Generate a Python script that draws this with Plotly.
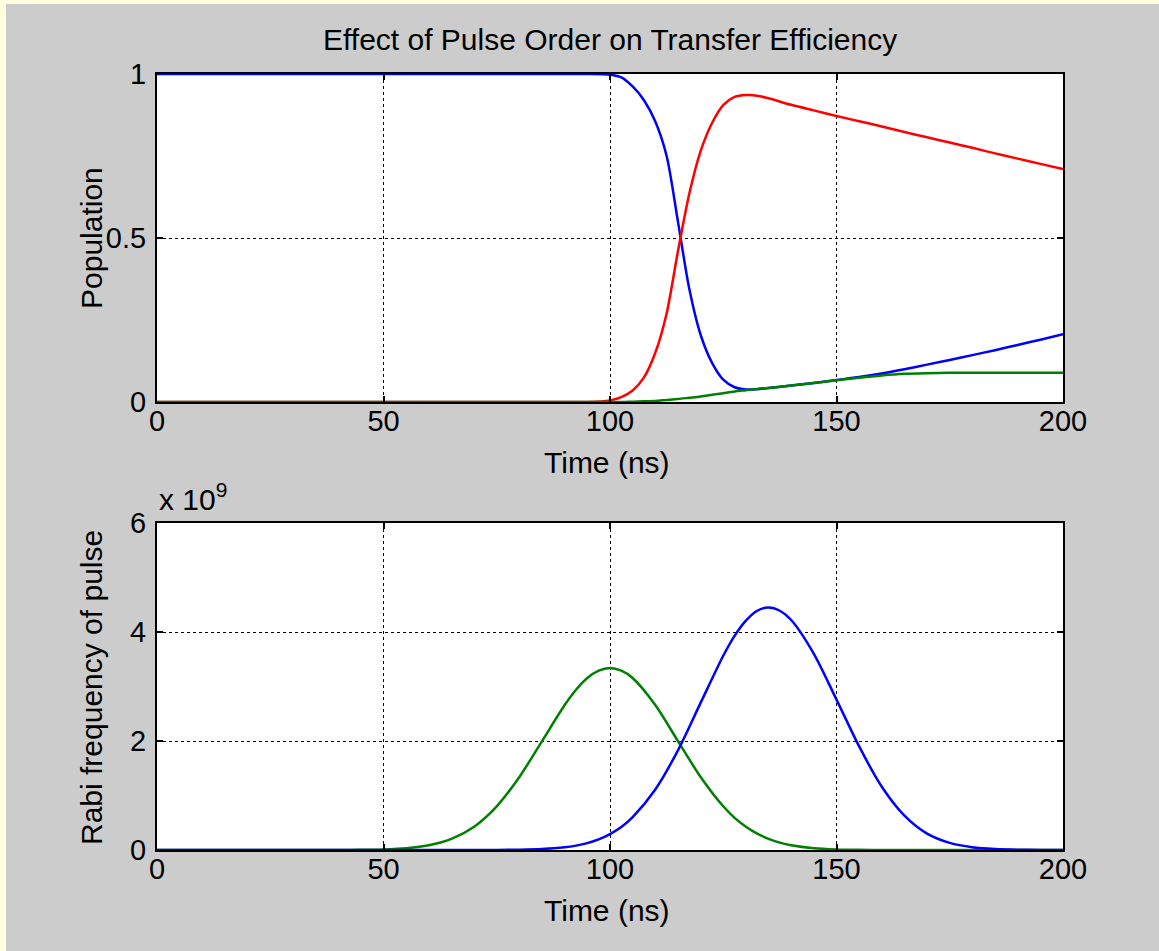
import plotly.graph_objects as go

W, H = 1159, 951

# ---------------- data ----------------
t_pop = [0, 10, 20, 30, 40, 50, 60, 70, 80, 90, 95,
         100, 102.5, 105, 107.5, 110, 112.5, 115, 117.5, 120, 122.5, 125, 127.5, 130, 132.5, 135,
         140, 145, 150, 155, 160, 165, 170, 175, 180, 185, 190, 195, 200]
pop_blue = [1, 1, 1, 1, 1, 1, 1, 1, 1, 1, 1,
            0.998, 0.99, 0.962, 0.92, 0.855, 0.75, 0.55, 0.345, 0.205, 0.12, 0.068, 0.045, 0.038, 0.039, 0.043,
            0.05, 0.058, 0.067, 0.076, 0.087, 0.1, 0.114, 0.128, 0.143, 0.158, 0.174, 0.19, 0.207]
pop_red = [0, 0, 0, 0, 0, 0, 0, 0, 0, 0, 0,
           0.005, 0.015, 0.035, 0.075, 0.15, 0.27, 0.46, 0.635, 0.765, 0.85, 0.905, 0.93, 0.936, 0.934, 0.926,
           0.906, 0.889, 0.872, 0.856, 0.84, 0.823, 0.807, 0.791, 0.775, 0.758, 0.742, 0.726, 0.71]
pop_green = [0, 0, 0, 0, 0, 0, 0, 0, 0, 0, 0,
             0, 0, 0.001, 0.002, 0.003, 0.006, 0.009, 0.013, 0.017, 0.022, 0.027, 0.032, 0.036, 0.04, 0.043,
             0.05, 0.058, 0.066, 0.074, 0.081, 0.086, 0.088, 0.089, 0.089, 0.089, 0.089, 0.089, 0.089]

t_rabi = [0, 5, 10, 15, 20, 25, 30, 35, 40, 45, 50, 55, 60, 65, 70, 75, 80, 85, 90, 92.5, 95, 97.5, 100,
          102.5, 105, 110, 115, 120, 125, 127.5, 130, 132.5, 135, 137.5, 140, 145, 150, 155, 160, 165, 170,
          175, 180, 185, 190, 195, 200]
# values in units of 1e9
rabi_green = [0, 0, 0, 0, 0, 0, 0, 0, 0.001, 0.003, 0.011, 0.033, 0.087, 0.204, 0.428, 0.802, 1.341, 1.998,
              2.659, 2.94, 3.155, 3.29, 3.34,
              3.29, 3.155, 2.659, 1.998, 1.341, 0.802, 0.59, 0.428, 0.3, 0.204, 0.135, 0.087, 0.033, 0.011,
              0.003, 0.001, 0, 0, 0, 0, 0, 0, 0, 0]
rabi_blue = [0, 0, 0, 0, 0, 0, 0, 0, 0, 0, 0, 0, 0, 0, 0.0004, 0.0015, 0.005, 0.017, 0.049, 0.08, 0.127, 0.195,
             0.292, 0.42, 0.602, 1.11, 1.829, 2.699, 3.564, 3.93, 4.209, 4.39, 4.45, 4.39, 4.22, 3.6, 2.76,
             1.9, 1.16, 0.63, 0.3, 0.13, 0.05, 0.017, 0.005, 0.0015, 0]

x_ticks = [0, 50, 100, 150, 200]
x_ticktext = ["0", "50", "100", "150", "200"]
pop_ticks = [0, 0.5, 1]
pop_ticktext = ["0", "0.5", "1"]
rabi_ticks = [0, 2, 4, 6]
rabi_ticktext = ["0", "2", "4", "6"]

title_text = "Effect of Pulse Order on Transfer Efficiency"
xlabel = "Time (ns)"
ylabel_top = "Population"
ylabel_bot = "Rabi frequency of pulse"
exp_text = "x 10<sup>9</sup>"

BLUE = "#0000ff"
RED = "#ff0000"
GREEN = "#008000"
FONT = "Liberation Sans, Arial, sans-serif"

# ---------------- layout geometry (pixels) ----------------
px_l, px_r = 157, 1063
top_t, top_b = 74, 402
bot_t, bot_b = 523, 850


def fx(px):
    return px / W


def fy(py):
    return (H - py) / H


fig = go.Figure()
lw = 2.5
for tt, yy, cc, ya, xa in [
    (t_pop, pop_blue, BLUE, "y", "x"),
    (t_pop, pop_red, RED, "y", "x"),
    (t_pop, pop_green, GREEN, "y", "x"),
    (t_rabi, rabi_green, GREEN, "y2", "x2"),
    (t_rabi, rabi_blue, BLUE, "y2", "x2"),
]:
    fig.add_trace(go.Scatter(x=tt, y=yy, mode="lines",
                             line=dict(color=cc, width=lw, shape="spline", smoothing=0.8),
                             xaxis=xa, yaxis=ya, showlegend=False))

axis_common = dict(
    automargin=False,
    showline=True, linecolor="black", linewidth=2, mirror="allticks",
    ticks="inside", ticklen=6, tickcolor="black", tickwidth=1.5,
    showgrid=True, gridcolor="black", gridwidth=1, griddash="3px,3px",
    zeroline=False, tickfont=dict(family=FONT, size=29, color="black"),
)

fig.update_layout(
    template="none",
    width=W, height=H,
    autosize=False,
    margin=dict(l=0, r=0, t=0, b=0, pad=0, autoexpand=False),
    paper_bgcolor="#cccccc",
    plot_bgcolor="white",
    font=dict(family=FONT, color="black"),
    showlegend=False,
    xaxis=dict(domain=[fx(px_l), fx(px_r)], range=[0, 200], tickvals=x_ticks, ticktext=x_ticktext,
               anchor="y", ticklabelstandoff=-8, **axis_common),
    yaxis=dict(domain=[fy(top_b), fy(top_t)], range=[0, 1], tickvals=pop_ticks, ticktext=pop_ticktext,
               anchor="x", ticklabelstandoff=3, **axis_common),
    xaxis2=dict(domain=[fx(px_l), fx(px_r)], range=[0, 200], tickvals=x_ticks, ticktext=x_ticktext,
                anchor="y2", ticklabelstandoff=-8, **axis_common),
    yaxis2=dict(domain=[fy(bot_b), fy(bot_t)], range=[0, 6], tickvals=rabi_ticks, ticktext=rabi_ticktext,
                anchor="x2", ticklabelstandoff=3, **axis_common),
    shapes=[
        dict(type="rect", xref="paper", yref="paper", x0=0, x1=fx(6), y0=0, y1=1,
             fillcolor="#ffffe0", line=dict(width=0), layer="above"),
        dict(type="rect", xref="paper", yref="paper", x0=0, x1=1, y0=fy(4), y1=1,
             fillcolor="#ffffe0", line=dict(width=0), layer="above"),
    ],
    annotations=[
        dict(text=title_text, x=fx(610), y=fy(40), xref="paper", yref="paper", showarrow=False,
             xanchor="center", yanchor="middle", font=dict(family=FONT, size=30, color="black")),
        dict(text=xlabel, x=fx(607), y=fy(462), xref="paper", yref="paper", showarrow=False,
             xanchor="center", yanchor="middle", font=dict(family=FONT, size=30, color="black")),
        dict(text=xlabel, x=fx(607), y=fy(910), xref="paper", yref="paper", showarrow=False,
             xanchor="center", yanchor="middle", font=dict(family=FONT, size=30, color="black")),
        dict(text=ylabel_top, x=fx(91), y=fy(238), xref="paper", yref="paper", showarrow=False,
             textangle=-90, xanchor="center", yanchor="middle", font=dict(family=FONT, size=30, color="black")),
        dict(text=ylabel_bot, x=fx(91), y=fy(688), xref="paper", yref="paper", showarrow=False,
             textangle=-90, xanchor="center", yanchor="middle", font=dict(family=FONT, size=30, color="black")),
        dict(text=exp_text, x=fx(157), y=fy(518), xref="paper", yref="paper", showarrow=False,
             xanchor="left", yanchor="bottom", font=dict(family=FONT, size=30, color="black")),
    ],
)

fig.write_html(
    "out.html",
    config={"responsive": False},
    post_script="document.body.style.margin='0px';document.body.style.overflow='hidden';",
)
